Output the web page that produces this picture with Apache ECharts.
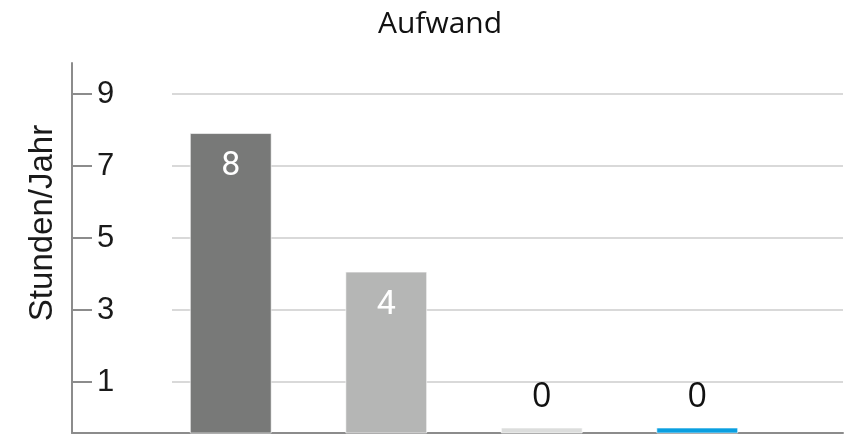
<!DOCTYPE html>
<html>
<head>
<meta charset="utf-8">
<script src="https://cdn.jsdelivr.net/npm/echarts@6/dist/echarts.min.js"></script>
<style>html,body{margin:0;padding:0;background:#fff}#c{width:853px;height:435px}</style>
</head>
<body>
<div id="c"></div>
<script>
const titleText = 'Aufwand';
const yAxisTitle = 'Stunden/Jahr';
const categories = ['Kategorie 1', 'Kategorie 2', 'Kategorie 3', 'Kategorie 4'];
const values = [7.9, 4.05, 0, 0];
const barColors = ['#787978', '#b5b6b5', '#dcdddc', '#0a9fe0'];
const tickMin = 1, tickMax = 9, tickStep = 2;
const Y_MIN = -0.42, Y_MAX = 9.86;
const STUB = 5;

const chart = echarts.init(document.getElementById('c'));
const axisGray = '#8c8c8c';

chart.setOption({
  animation: false,
  title: {
    text: titleText, left: 435, top: 4, textAlign: 'center',
    textStyle: { fontFamily: 'Open Sans', fontWeight: 'normal', fontSize: 30, color: '#111' }
  },
  graphic: [{
    type: 'text', x: 43, y: 223, rotation: Math.PI / 2,
    style: { text: yAxisTitle, fontFamily: 'Liberation Sans', fontSize: 33, fill: '#1a1a1a', align: 'center', verticalAlign: 'middle' }
  }],
  grid: [
    { left: 72, right: 10, top: 63, bottom: 2 },
    { left: 172, right: 10, top: 94, bottom: 53 },
    { left: 153, right: 78, top: 63, bottom: 2 },
    { left: 72, right: 10, top: 94, bottom: 53 }
  ],
  xAxis: [
    { gridIndex: 0, type: 'value', min: 0, max: 1, axisLine: { show: true, onZero: false, lineStyle: { color: axisGray, width: 2 } },
      axisTick: { show: false }, axisLabel: { show: false }, splitLine: { show: false } },
    { gridIndex: 1, type: 'value', min: 0, max: 1, show: false },
    { gridIndex: 2, type: 'category', data: categories, show: false },
    { gridIndex: 3, type: 'value', min: 0, max: 1, show: false }
  ],
  yAxis: [
    { gridIndex: 0, type: 'value', min: Y_MIN, max: Y_MAX, axisLine: { show: true, lineStyle: { color: axisGray, width: 2 } },
      axisTick: { show: false }, axisLabel: { show: false }, splitLine: { show: false } },
    { gridIndex: 1, type: 'value', min: tickMin, max: tickMax, interval: tickStep,
      axisLine: { show: false }, axisTick: { show: false }, axisLabel: { show: false },
      splitLine: { show: true, lineStyle: { color: '#d9d9d9', width: 2 } } },
    { gridIndex: 2, type: 'value', min: Y_MIN, max: Y_MAX, show: false },
    { gridIndex: 3, type: 'value', min: tickMin, max: tickMax, interval: tickStep,
      axisLine: { show: false },
      axisTick: { show: true, inside: true, length: 20, lineStyle: { color: axisGray, width: 2 } },
      axisLabel: { show: true, inside: true, margin: 25, fontFamily: 'Liberation Sans', fontSize: 31, color: '#1a1a1a' },
      splitLine: { show: false } }
  ],
  series: [{
    type: 'custom',
    xAxisIndex: 2, yAxisIndex: 2,
    data: values.map((v, i) => [i, v]),
    encode: { x: 0, y: 1 },
    renderItem: function (params, api) {
      const i = api.value(0);
      const v = api.value(1);
      const xc = api.coord([i, 0])[0];
      const base = api.coord([i, Y_MIN])[1];
      const top = v > 0 ? api.coord([i, v])[1] : base - STUB;
      const w = api.size([1, 0])[0] * 0.52;
      const label = String(Math.round(v));
      const inside = v > 1;
      return {
        type: 'group',
        children: [
          { type: 'rect', shape: { x: xc - w / 2, y: top, width: w, height: base - top },
            style: { fill: barColors[params.dataIndex], stroke: 'rgba(255,255,255,0.6)', lineWidth: 1 } },
          { type: 'text', style: {
              text: label, x: xc, y: inside ? top + 33 : top - 31,
              align: 'center', verticalAlign: 'middle',
              fontFamily: inside ? 'Roboto' : 'Open Sans', fontSize: 34,
              fill: inside ? '#ffffff' : '#111111' } }
        ]
      };
    }
  }]
});
</script>
</body>
</html>
